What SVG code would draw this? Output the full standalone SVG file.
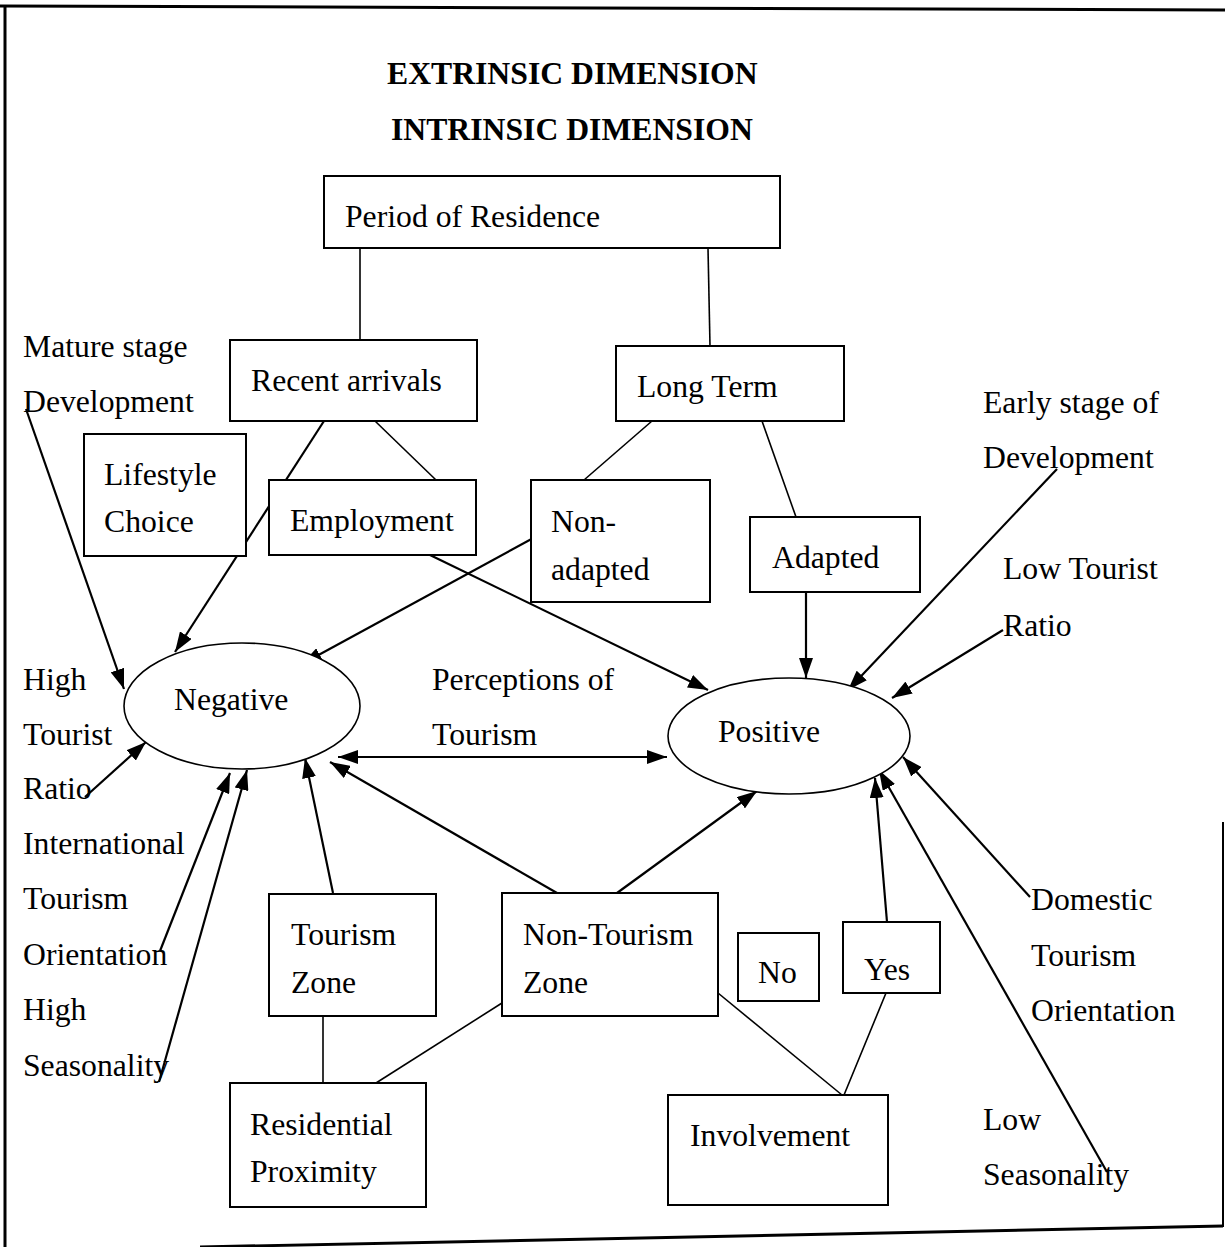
<svg xmlns="http://www.w3.org/2000/svg" width="1225" height="1247" viewBox="0 0 1225 1247">
<style>
text{font-family:"Liberation Serif","Times New Roman",serif;font-size:31.7px;fill:#000}
.t{font-weight:bold}
.box{fill:#fff;stroke:#000;stroke-width:2}
.ell{fill:#fff;stroke:#000;stroke-width:1.6}
.ln{stroke:#000;stroke-width:1.6;fill:none}
.ar{stroke:#000;stroke-width:2.2;fill:none;marker-end:url(#ah)}
.frame{stroke:#000;stroke-width:3;fill:none}
</style>
<defs>
<marker id="ah" viewBox="0 0 10 10" refX="10" refY="5" markerWidth="20" markerHeight="14" preserveAspectRatio="none" orient="auto-start-reverse" markerUnits="userSpaceOnUse"><path d="M0,0 L10,5 L0,10 z" fill="#000"/></marker>
</defs>
<rect width="1225" height="1247" fill="#fff"/>
<g id="frame">
<line class="frame" x1="0" y1="6" x2="1225" y2="10"/>
<line class="frame" x1="5" y1="7" x2="5" y2="1247"/>
<line class="frame" x1="200" y1="1247" x2="1223" y2="1226"/>
<line x1="1223" y1="822" x2="1223" y2="1227" stroke="#000" stroke-width="2"/>
</g>
<g id="title">
<text class="t" x="387" y="84">EXTRINSIC DIMENSION</text>
<text class="t" x="391" y="140">INTRINSIC DIMENSION</text>
</g>
<g id="connectors">
<line class="ln" x1="360" y1="248" x2="360" y2="340"/>
<line class="ln" x1="708" y1="248" x2="710" y2="346"/>
<line class="ln" x1="652" y1="421" x2="584" y2="480"/>
<line class="ln" x1="762" y1="421" x2="796" y2="517"/>
<line class="ln" x1="375" y1="421" x2="436" y2="480"/>
<line class="ln" x1="323" y1="1016" x2="323" y2="1083"/>
<line class="ln" x1="376" y1="1083" x2="502" y2="1003"/>
<line class="ln" x1="718" y1="993" x2="842" y2="1095"/>
<line class="ln" x1="886" y1="993" x2="844" y2="1095"/>
<line class="ar" x1="26" y1="409" x2="124" y2="689"/>
<line class="ar" x1="324" y1="421" x2="175" y2="652"/>
<line class="ar" x1="548" y1="530" x2="302" y2="664"/>
<line class="ar" x1="430" y1="555" x2="708" y2="690"/>
<line class="ar" x1="806" y1="592" x2="806" y2="678"/>
<line class="ar" x1="1057" y1="469" x2="848" y2="690"/>
<line class="ar" x1="1003" y1="630" x2="892" y2="698"/>
<line class="ar" x1="85" y1="797" x2="146" y2="742"/>
<line class="ar" x1="160" y1="951" x2="230" y2="773"/>
<line class="ar" x1="159" y1="1082" x2="247" y2="770"/>
<line class="ar" x1="333" y1="893" x2="305" y2="758"/>
<line class="ar" x1="557" y1="893" x2="330" y2="762"/>
<line class="ar" x1="617" y1="893" x2="757" y2="791"/>
<line class="ar" x1="887" y1="922" x2="875" y2="778"/>
<line class="ar" x1="1107" y1="1172" x2="879" y2="770"/>
<line class="ar" x1="1030" y1="897" x2="903" y2="757"/>
<line x1="338" y1="757" x2="667" y2="757" stroke="#000" stroke-width="2.2" marker-start="url(#ah)" marker-end="url(#ah)"/>
</g>
<g id="period"><rect class="box" x="324" y="176" width="456" height="72"/><text x="345" y="227">Period of Residence</text></g>
<g id="recent"><rect class="box" x="230" y="340" width="247" height="81"/><text x="251" y="391">Recent arrivals</text></g>
<g id="longterm"><rect class="box" x="616" y="346" width="228" height="75"/><text x="637" y="397">Long Term</text></g>
<g id="lifestyle"><rect class="box" x="84" y="434" width="162" height="122"/><text x="104" y="485">Lifestyle</text><text x="104" y="532">Choice</text></g>
<g id="employment"><rect class="box" x="269" y="480" width="207" height="75"/><text x="290" y="531">Employment</text></g>
<g id="nonadapted"><rect class="box" x="531" y="480" width="179" height="122"/><text x="551" y="532">Non-</text><text x="551" y="580">adapted</text></g>
<g id="adapted"><rect class="box" x="750" y="517" width="170" height="75"/><text x="772" y="568">Adapted</text></g>
<g id="negative"><ellipse class="ell" cx="242" cy="706" rx="118" ry="63"/><text x="174" y="710">Negative</text></g>
<g id="positive"><ellipse class="ell" cx="789" cy="736" rx="121" ry="58"/><text x="718" y="742">Positive</text></g>
<g id="perceptions"><text x="432" y="690">Perceptions of</text><text x="432" y="745">Tourism</text></g>
<g id="tourismzone"><rect class="box" x="269" y="894" width="167" height="122"/><text x="291" y="945">Tourism</text><text x="291" y="993">Zone</text></g>
<g id="nontourismzone"><rect class="box" x="502" y="893" width="216" height="123"/><text x="523" y="945">Non-Tourism</text><text x="523" y="993">Zone</text></g>
<g id="no"><rect class="box" x="738" y="933" width="81" height="68"/><text x="758" y="983">No</text></g>
<g id="yes"><rect class="box" x="843" y="922" width="97" height="71"/><text x="864" y="980">Yes</text></g>
<g id="residential"><rect class="box" x="230" y="1083" width="196" height="124"/><text x="250" y="1135">Residential</text><text x="250" y="1182">Proximity</text></g>
<g id="involvement"><rect class="box" x="668" y="1095" width="220" height="110"/><text x="690" y="1146">Involvement</text></g>
<g id="left-labels">
<text x="23" y="357">Mature stage</text>
<text x="23" y="412">Development</text>
<text x="23" y="690">High</text>
<text x="23" y="745">Tourist</text>
<text x="23" y="799">Ratio</text>
<text x="23" y="854">International</text>
<text x="23" y="909">Tourism</text>
<text x="23" y="965">Orientation</text>
<text x="23" y="1020">High</text>
<text x="23" y="1076">Seasonality</text>
</g>
<g id="right-labels">
<text x="983" y="413">Early stage of</text>
<text x="983" y="468">Development</text>
<text x="1003" y="579">Low Tourist</text>
<text x="1003" y="636">Ratio</text>
<text x="1031" y="910">Domestic</text>
<text x="1031" y="966">Tourism</text>
<text x="1031" y="1021">Orientation</text>
<text x="983" y="1130">Low</text>
<text x="983" y="1185">Seasonality</text>
</g>
</svg>
